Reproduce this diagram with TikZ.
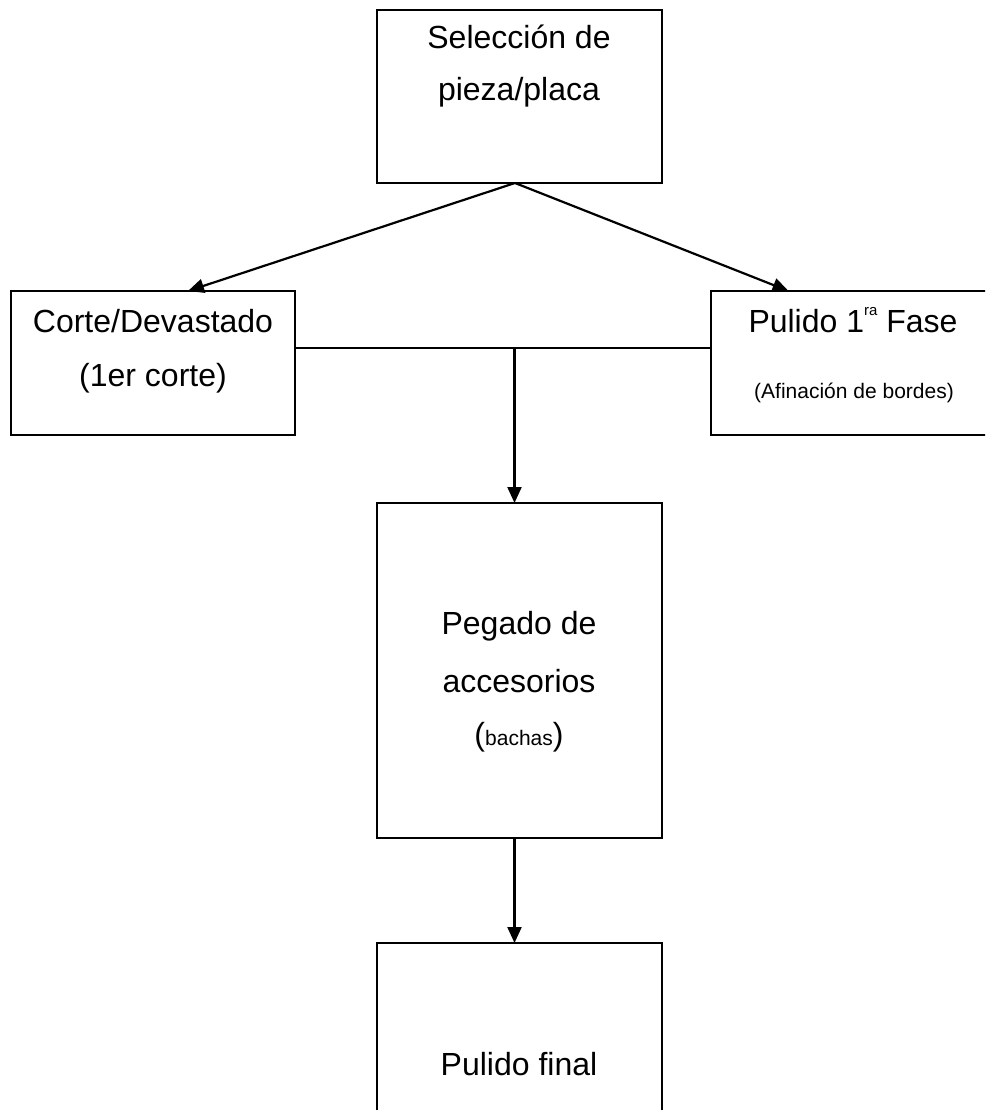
\documentclass[tikz,border=0pt]{standalone}
\usepackage{fontspec}
\setmainfont{Liberation Sans}
\usetikzlibrary{arrows.meta}
\begin{document}
\begin{tikzpicture}[x=1pt,y=1pt,
  box/.style={draw,line width=2.4pt,inner sep=0pt,outer sep=0pt,minimum width=285pt},
  big/.style={font=\fontsize{32}{38}\selectfont,inner sep=0pt,anchor=base},
  small/.style={font=\fontsize{21}{25}\selectfont,inner sep=0pt,anchor=base},
  conn/.style={line width=2.2pt},
  arr/.style={line width=2.2pt,-{Triangle[length=16pt,width=14pt]}}
]
\useasboundingbox (0,0) rectangle (985,-1110);
\clip (0,0) rectangle (985,-1110);
\fill[white] (0,0) rectangle (985,-1110);

% boxes
\node[box,minimum height=173pt] (top) at (519.5,-96.5) {};
\node[box,minimum width=284pt,minimum height=144pt] (left) at (153,-363) {};
\node[box,minimum height=144pt] (right) at (853.5,-363) {};
\node[box,minimum height=335pt] (mid) at (519.5,-670.5) {};
\node[box,minimum height=173pt] (bot) at (519.5,-1029.5) {};

% texts
\node[big] (t1) at (519,-49) {Selección de};
\node[big] (t2) at (519,-101) {pieza/placa};
\node[big] (l1) at (153,-332) {Corte/Devastado};
\node[big] (l2) at (153,-386) {(1er corte)};
\node[big] (r1) at (853,-332) {Pulido 1\raisebox{17pt}{\fontsize{15}{15}\selectfont ra} Fase};
\node[small] (r2) at (854,-398) {(Afinación de bordes)};
\node[big] (m1) at (519,-634) {Pegado de};
\node[big] (m2) at (519,-692) {accesorios};
\node[big] (m3) at (519,-745) {({\fontsize{21}{25}\selectfont bachas})};
\node[big] (b1) at (519,-1075) {Pulido final};

% connectors
\coordinate (apex) at (515,-183);
\coordinate (j) at (514.5,-348);
\draw[arr] (apex) -- ([xshift=35pt]left.north);
\draw[arr] (apex) -- ([xshift=-65pt]right.north);
\draw[conn] (left.east |- j) -- (right.west |- j);
\draw[arr] (j) -- (j |- mid.north);
\draw[arr] ([xshift=-5pt]mid.south) -- ([xshift=-5pt]bot.north);
\end{tikzpicture}
\end{document}
